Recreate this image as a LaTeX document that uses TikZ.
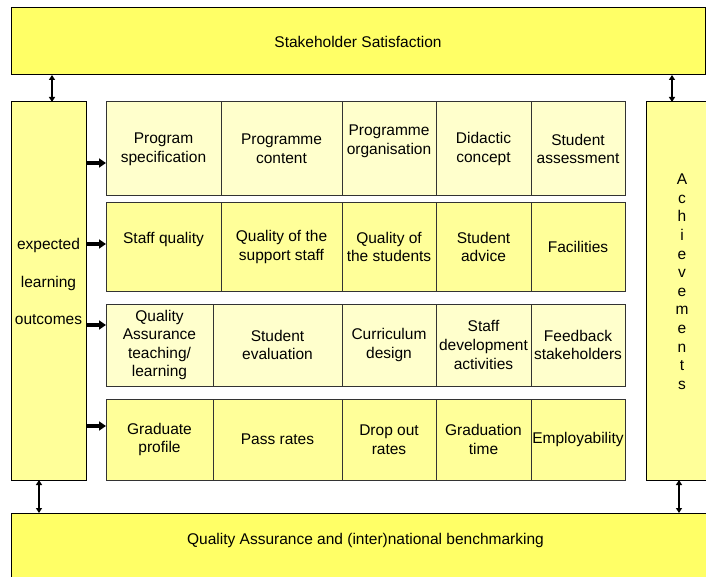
\documentclass[tikz,border=0pt]{standalone}
\usepackage{fontspec}
\setmainfont{Liberation Sans}
\usetikzlibrary{arrows.meta}
\definecolor{bandyellow}{HTML}{FFFF66}
\definecolor{pillaryellow}{HTML}{FFFF99}
\definecolor{palecell}{HTML}{FFFFCC}
\definecolor{richcell}{HTML}{FFFF99}
\begin{document}
\begin{tikzpicture}[x=1pt,y=-1pt,inner sep=0pt,outer sep=0pt,line width=1pt,
font=\fontsize{15.5}{18.6}\selectfont,
band/.style={draw,rectangle,fill=bandyellow,align=center},
pillar/.style={draw,rectangle,fill=pillaryellow,align=center,minimum height=378pt},
pale/.style={draw=black!80,rectangle,fill=palecell,align=center},
rich/.style={draw=black!80,rectangle,fill=richcell,align=center},
link/.style={{Triangle[length=5pt,width=6pt]}-{Triangle[length=5pt,width=6pt]},line width=1.3pt},
feed/.style={-{Triangle[length=7pt,width=9pt]},line width=3.5pt}]
\useasboundingbox (0,0) rectangle (706,577);
\clip (0,0) rectangle (706,577);
% outer frame
\draw (358,41.5) node[band,minimum width=694pt,minimum height=67pt] (satisfaction) {Stakeholder Satisfaction};
\draw (365.5,548.5) node[band,minimum width=709pt,minimum height=71pt] (benchmarking) {Quality Assurance and (inter)national benchmarking\\~};
\draw (48.5,291) node[pillar,minimum width=75pt] (outcomes) {expected\\[19pt]learning\\[19pt]outcomes\\~};
\draw (682,291) node[pillar,minimum width=72pt] (achievements) {A\\c\\h\\i\\e\\v\\e\\m\\e\\n\\t\\s\\~};
% row 1
\draw (163.5,149) node[pale,minimum width=115pt,minimum height=94pt] (spec) {Program\\specification};
\draw (281.5,149) node[pale,minimum width=121pt,minimum height=94pt] (content) {Programme\\content};
\draw (389,149) node[pale,minimum width=94pt,minimum height=94pt] (organisation) {Programme\\organisation\\~};
\draw (483.5,149) node[pale,minimum width=95pt,minimum height=94pt] (didactic) {Didactic\\concept};
\draw (578,149) node[pale,minimum width=94pt,minimum height=94pt] (assessment) {Student\\assessment};
% row 2
\draw (163.5,247) node[rich,minimum width=115pt,minimum height=88pt] (staff) {Staff quality\\~};
\draw (281.5,247) node[rich,minimum width=121pt,minimum height=88pt] (support) {Quality of the\\support staff};
\draw (389,247) node[rich,minimum width=94pt,minimum height=88pt] (students) {Quality of\\the students};
\draw (483.5,247) node[rich,minimum width=95pt,minimum height=88pt] (advice) {Student\\advice};
\draw (578,247) node[rich,minimum width=94pt,minimum height=88pt] (facilities) {Facilities};
% row 3
\draw (159.5,345) node[pale,minimum width=107pt,minimum height=82pt] (qa) {Quality\\Assurance\\teaching/\\learning};
\draw (277.5,345) node[pale,minimum width=129pt,minimum height=82pt] (evaluation) {Student\\evaluation};
\draw (389,345) node[pale,minimum width=94pt,minimum height=82pt] (curriculum) {Curriculum\\design};
\draw (483.5,345) node[pale,minimum width=95pt,minimum height=82pt] (development) {Staff\\development\\activities};
\draw (578,345) node[pale,minimum width=94pt,minimum height=82pt] (feedback) {Feedback\\stakeholders};
% row 4
\draw (159.5,439.5) node[rich,minimum width=107pt,minimum height=81pt] (profile) {Graduate\\profile};
\draw (277.5,439.5) node[rich,minimum width=129pt,minimum height=81pt] (pass) {Pass rates};
\draw (389,439.5) node[rich,minimum width=94pt,minimum height=81pt] (dropout) {Drop out\\rates};
\draw (483.5,439.5) node[rich,minimum width=95pt,minimum height=81pt] (gradtime) {Graduation\\time};
\draw (578,439.5) node[rich,minimum width=94pt,minimum height=81pt] (employ) {Employability};
% links to the frame
\draw[link] ([xshift=3.5pt]outcomes.north) -- ([xshift=3.5pt]outcomes.north |- satisfaction.south);
\draw[link] ([xshift=-10pt]achievements.north) -- ([xshift=-10pt]achievements.north |- satisfaction.south);
\draw[link] ([xshift=-9.5pt]outcomes.south) -- ([xshift=-9.5pt]outcomes.south |- benchmarking.north);
\draw[link] ([xshift=-3pt]achievements.south) -- ([xshift=-3pt]achievements.south |- benchmarking.north);
% outcomes feed the rows
\coordinate (in1) at ([yshift=-14pt]spec.west);
\coordinate (in2) at ([yshift=3pt]staff.west);
\coordinate (in3) at ([yshift=20pt]qa.west);
\coordinate (in4) at ([yshift=13.5pt]profile.west);
\draw[feed] (in1 -| outcomes.east) -- (in1);
\draw[feed] (in2 -| outcomes.east) -- (in2);
\draw[feed] (in3 -| outcomes.east) -- (in3);
\draw[feed] (in4 -| outcomes.east) -- (in4);
\end{tikzpicture}
\end{document}
